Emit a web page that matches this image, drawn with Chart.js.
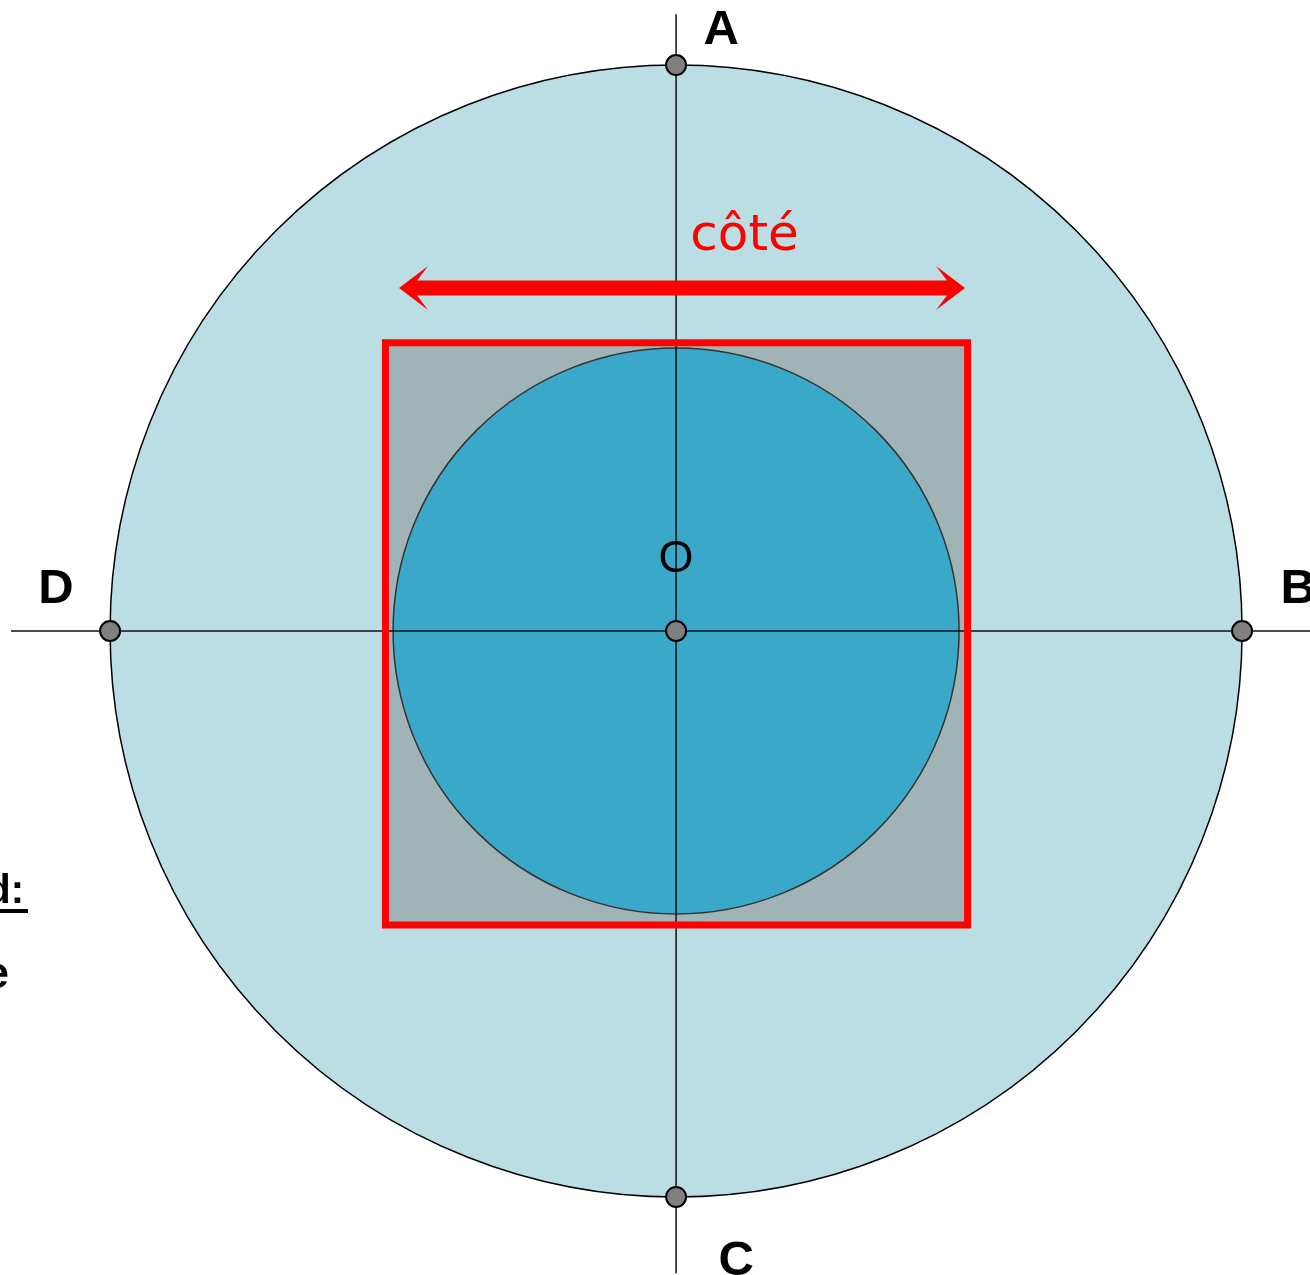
<!DOCTYPE html>
<html>
<head>
<meta charset="utf-8">
<script src="https://cdn.jsdelivr.net/npm/chart.js@4.4.0/dist/chart.umd.min.js"></script>
<style>
  body { margin: 0; background: #fff; }
  #wrap { width: 1310px; height: 1275px; }
</style>
</head>
<body>
<div id="wrap"><canvas id="fig" width="1310" height="1275"></canvas></div>
<script>
// unité = rayon du petit cercle
const pointNames = ['A', 'B', 'C', 'D', 'O'];
const pointX = [0, 2, 0, -2, 0];
const pointY = [2, 0, -2, 0, 0];

const bigRadius = 2;
const smallRadius = 1;

// coins du carré (sens horaire)
const squareX = [-1.027, 1.030, 1.030, -1.027];
const squareY = [1.019, 1.019, -1.039, -1.039];

// axes
const axisHX = [-2.35, 2.25];
const axisVY = [2.18, -2.27];

// flèche "côté"
const arrowX = [-0.979, 1.021];
const arrowY = 1.212;
const arrowText = 'côté';

// étiquettes des points (position du texte)
const labelText = ['A', 'B', 'C', 'D', 'O'];
const labelX = [0.159, 2.198, 0.212, -2.191, 0];
const labelY = [2.074, 0.099, -2.276, 0.099, 0.208];

const xMin = -2.389, xMax = 2.240, yMin = -2.276, yMax = 2.230;

const Figure = {
    px(chart, x) { return chart.scales.x.getPixelForValue(x); },
    py(chart, y) { return chart.scales.y.getPixelForValue(y); },

    circle(ctx, chart, r, fill, stroke, lw) {
        const cx = this.px(chart, 0), cy = this.py(chart, 0);
        const rp = this.px(chart, r) - cx;
        ctx.beginPath();
        ctx.arc(cx, cy, rp, 0, Math.PI * 2);
        ctx.fillStyle = fill;
        ctx.fill();
        ctx.lineWidth = lw;
        ctx.strokeStyle = stroke;
        ctx.stroke();
    },

    arrow(ctx, chart) {
        const x1 = this.px(chart, arrowX[0]), x2 = this.px(chart, arrowX[1]);
        const y = this.py(chart, arrowY);
        const hl = 29, hh = 22, notch = 18, sw = 7.5;
        ctx.beginPath();
        ctx.moveTo(x1, y);
        ctx.lineTo(x1 + hl, y - hh);
        ctx.lineTo(x1 + notch, y - sw);
        ctx.lineTo(x2 - notch, y - sw);
        ctx.lineTo(x2 - hl, y - hh);
        ctx.lineTo(x2, y);
        ctx.lineTo(x2 - hl, y + hh);
        ctx.lineTo(x2 - notch, y + sw);
        ctx.lineTo(x1 + notch, y + sw);
        ctx.lineTo(x1 + hl, y + hh);
        ctx.closePath();
        ctx.fillStyle = '#ff0000';
        ctx.fill();
    }
};

const backgroundPlugin = {
    id: 'background',
    beforeDatasetsDraw(chart) {
        const ctx = chart.ctx;
        ctx.save();
        Figure.circle(ctx, chart, bigRadius, '#bbdee4', '#000', 1.5);
        // fond du carré
        ctx.beginPath();
        squareX.forEach((x, i) => {
            const X = Figure.px(chart, x), Y = Figure.py(chart, squareY[i]);
            i === 0 ? ctx.moveTo(X, Y) : ctx.lineTo(X, Y);
        });
        ctx.closePath();
        ctx.fillStyle = '#a0b4b8';
        ctx.fill();
        Figure.circle(ctx, chart, smallRadius, '#3aa8c8', '#333', 1.5);
        ctx.restore();
    }
};

const labelsPlugin = {
    id: 'labels',
    afterDatasetsDraw(chart) {
        const ctx = chart.ctx;
        ctx.save();
        Figure.arrow(ctx, chart);

        ctx.textAlign = 'center';
        ctx.textBaseline = 'alphabetic';
        ctx.fillStyle = '#000';
        labelText.forEach((t, i) => {
            ctx.font = t === 'O' ? '45px "Liberation Sans", Arial, sans-serif'
                                 : 'bold 49px "Liberation Sans", Arial, sans-serif';
            ctx.fillText(t, Figure.px(chart, labelX[i]), Figure.py(chart, labelY[i]));
        });

        ctx.fillStyle = '#ff0000';
        ctx.font = '50px "Comic Sans MS", "DejaVu Sans", sans-serif';
        ctx.fillText(arrowText, Figure.px(chart, 0.242), Figure.py(chart, 1.346));

        // texte coupé au bord gauche
        ctx.fillStyle = '#000';
        ctx.textAlign = 'right';
        ctx.font = 'bold 40px "Liberation Sans", Arial, sans-serif';
        ctx.fillText('d:', 24, 903);
        ctx.fillRect(0, 909, 28, 4);
        ctx.font = 'bold 44px "Liberation Sans", Arial, sans-serif';
        ctx.fillText('e', 9, 988);
        ctx.restore();
    }
};

// contour fermé : on repasse par les deux premiers coins pour que l'angle soit joint
const squarePath = [0, 1, 2, 3, 0, 1].map(i => ({ x: squareX[i], y: squareY[i] }));

new Chart(document.getElementById('fig').getContext('2d'), {
    type: 'scatter',
    data: {
        datasets: [
            {
                label: 'points',
                data: pointX.map((x, i) => ({ x: x, y: pointY[i] })),
                pointRadius: 10,
                pointBackgroundColor: '#808080',
                pointBorderColor: '#000',
                pointBorderWidth: 2,
                showLine: false,
                clip: false
            },
            {
                label: 'carré',
                data: squarePath,
                showLine: true,
                borderColor: '#ff0000',
                borderWidth: 7,
                borderJoinStyle: 'miter',
                pointRadius: 0,
                tension: 0
            },
            {
                label: 'axe horizontal',
                data: axisHX.map(x => ({ x: x, y: 0 })),
                showLine: true,
                borderColor: '#111',
                borderWidth: 1.5,
                pointRadius: 0
            },
            {
                label: 'axe vertical',
                data: axisVY.map(y => ({ x: 0, y: y })),
                showLine: true,
                borderColor: '#111',
                borderWidth: 1.5,
                pointRadius: 0
            }
        ]
    },
    options: {
        responsive: false,
        animation: false,
        layout: { padding: 0, autoPadding: false },
        plugins: {
            legend: { display: false },
            tooltip: { enabled: false }
        },
        scales: {
            x: { type: 'linear', min: xMin, max: xMax, display: false },
            y: { type: 'linear', min: yMin, max: yMax, display: false }
        }
    },
    plugins: [backgroundPlugin, labelsPlugin]
});
</script>
</body>
</html>
